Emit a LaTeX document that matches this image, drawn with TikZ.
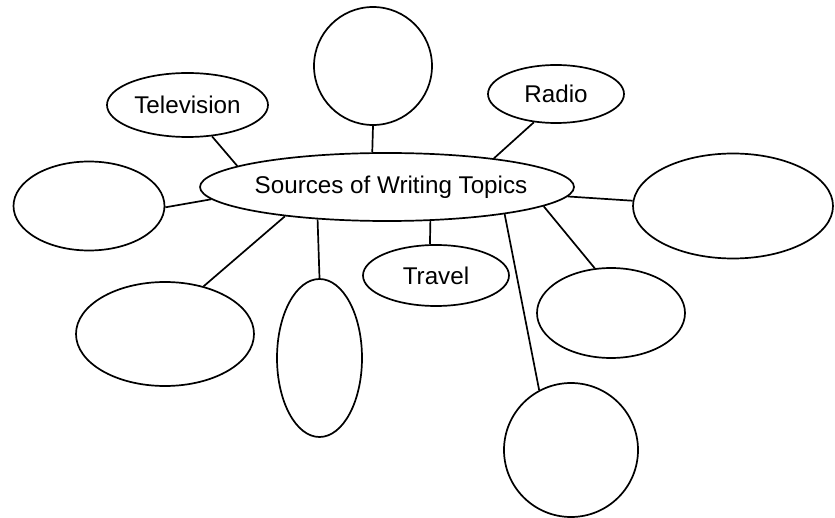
\documentclass[tikz,border=0pt]{standalone}
\usepackage{fontspec}
\setmainfont{Liberation Sans}
\usepackage{tikz}
\usetikzlibrary{shapes.geometric}
\tikzstyle{sheet} = [x = 1pt, y = -1pt]
\tikzstyle{bubbleStyle} = [draw, ellipse, inner sep = 0pt, line width = 1.7pt]
\tikzstyle{spokeLine} = [line width = 1.7pt]
\tikzstyle{bubbleText} = [font = \fontsize{24.2}{29}\selectfont]
\newcommand{\bubble}[5]{\node [bubbleStyle, minimum width = #4, minimum height = #5] (#1) at (#2, #3) {};}
\newcommand{\namedBubble}[6]{\node [bubbleStyle, minimum width = #4, minimum height = #5, label = {[bubbleText]center:#6}] (#1) at (#2, #3) {};}
\newcommand{\spoke}[2]{\draw [spokeLine] (#1) -- (#2);}

\begin{document}
\begin{tikzpicture}[sheet]
  \useasboundingbox (0, 0) rectangle (835, 518);
  % hub and the bubbles round it
  \namedBubble{sources}{387}{187}{374}{68}{\hspace{8pt}Sources of Writing Topics}
  \bubble{topCircle}{373}{66}{118}{118}
  \namedBubble{television}{187.5}{105}{161}{64}{Television}
  \namedBubble{radio}{556}{94}{136}{58}{Radio}
  \bubble{leftBubble}{89}{206}{151}{89}
  \bubble{rightBubble}{733}{206}{200}{105}
  \namedBubble{travel}{436}{275.5}{146}{61}{Travel}
  \bubble{lowerLeftBubble}{165}{334}{178}{104}
  \bubble{tallBubble}{319.5}{358}{85}{158}
  \bubble{lowerRightBubble}{611}{313}{148}{90}
  \bubble{bottomCircle}{571}{450}{134}{134}

  % spokes
  \spoke{topCircle.south}{sources.113}
  \spoke{television.-52}{sources.172}
  \spoke{radio.-128}{sources.15}
  \spoke{leftBubble.-1}{sources.184}
  \spoke{rightBubble.177}{sources.-3}
  \spoke{travel.101}{sources.-38}
  \spoke{lowerLeftBubble.51}{sources.-164}
  \spoke{tallBubble.north}{sources.-155}
  \spoke{lowerRightBubble.110}{sources.-7}
  \spoke{bottomCircle.118}{sources.-13}
\end{tikzpicture}
\end{document}
